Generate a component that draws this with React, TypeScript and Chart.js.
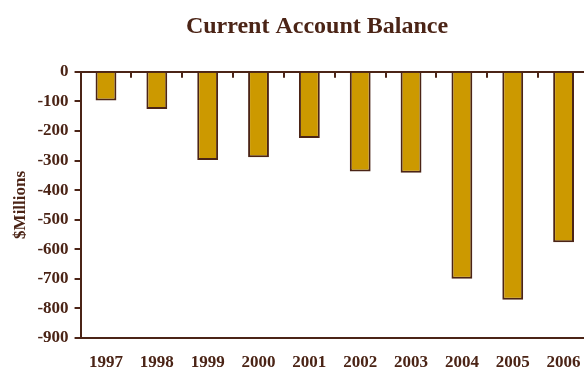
import React, { useEffect, useRef } from "react";
import { Chart, registerables } from "chart.js";

Chart.register(...registerables);

const years = ["1997", "1998", "1999", "2000", "2001", "2002", "2003", "2004", "2005", "2006"];
const balance = [-97, -126, -298, -289, -224, -337, -341, -700, -771, -576];
const yMin = -900;
const yMax = 0;
const yStep = 100;

const BROWN = "#4b2416";
const GOLD = "#cc9900";
const FONT = "'Liberation Serif', 'Times New Roman', serif";

const zeroTicks = {
  id: "zeroTicks",
  afterDatasetsDraw(chart: any) {
    const xs = chart.scales.x;
    const ys = chart.scales.y;
    const y0 = ys.getPixelForValue(0);
    const ctx = chart.ctx;
    ctx.save();
    ctx.strokeStyle = BROWN;
    ctx.lineWidth = 2;
    for (let i = 1; i < xs.ticks.length; i++) {
      const px = Math.round((xs.getPixelForTick(i - 1) + xs.getPixelForTick(i)) / 2);
      ctx.beginPath();
      ctx.moveTo(px, y0);
      ctx.lineTo(px, y0 + 6);
      ctx.stroke();
    }
    ctx.restore();
  },
};

const titleShift = {
  id: "titleShift",
  afterLayout(chart: any) {
    const t = chart.titleBlock;
    if (t) {
      t.left += 45;
    }
  },
};

export default function App() {
  const ref = useRef<HTMLCanvasElement>(null);
  useEffect(() => {
    if (!ref.current) return;
    const chart = new Chart(ref.current, {
      type: "bar",
      data: {
        labels: years,
        datasets: [
          {
            data: balance,
            backgroundColor: GOLD,
            borderColor: BROWN,
            borderWidth: 2,
            barPercentage: 0.41,
            categoryPercentage: 1,
          },
        ],
      },
      plugins: [zeroTicks, titleShift],
      options: {
        responsive: false,
        animation: false,
        layout: { padding: { left: 0, right: 51, top: 0, bottom: 0 } },
        plugins: {
          legend: { display: false },
          tooltip: { enabled: false },
          title: {
            display: true,
            text: "Current Account Balance",
            color: BROWN,
            font: { family: FONT, size: 24, weight: "bold" },
            padding: { top: 12, bottom: 31 },
          },
        },
        scales: {
          x: {
            grid: {
              display: true,
              drawOnChartArea: false,
              drawTicks: true,
              tickLength: 16,
              tickColor: "rgba(0,0,0,0)",
            },
            border: { display: true, color: BROWN, width: 2 },
            ticks: {
              color: BROWN,
              padding: 0,
              font: { family: FONT, size: 17, weight: "bold", lineHeight: 1 },
            },
          },
          y: {
            min: yMin,
            max: yMax,
            ticks: {
              stepSize: yStep,
              color: BROWN,
              padding: 6,
              font: { family: FONT, size: 17, weight: "bold" },
            },
            grid: {
              color: (c: any) => (c.tick && c.tick.value === 0 ? BROWN : "rgba(0,0,0,0)"),
              tickColor: BROWN,
              lineWidth: 2,
              tickLength: 6,
              tickWidth: 2,
            },
            border: { display: true, color: BROWN, width: 2 },
            title: {
              display: true,
              text: "$Millions",
              color: BROWN,
              font: { family: FONT, size: 17, weight: "bold" },
              padding: { top: 10, bottom: 1 },
            },
          },
        },
      },
    });
    return () => chart.destroy();
  }, []);
  return (
    <div style={{ position: "fixed", left: 0, top: 0, width: 584, height: 371, overflow: "hidden", background: "#fff" }}>
      <canvas ref={ref} width={640} height={371} style={{ display: "block" }} />
    </div>
  );
}
